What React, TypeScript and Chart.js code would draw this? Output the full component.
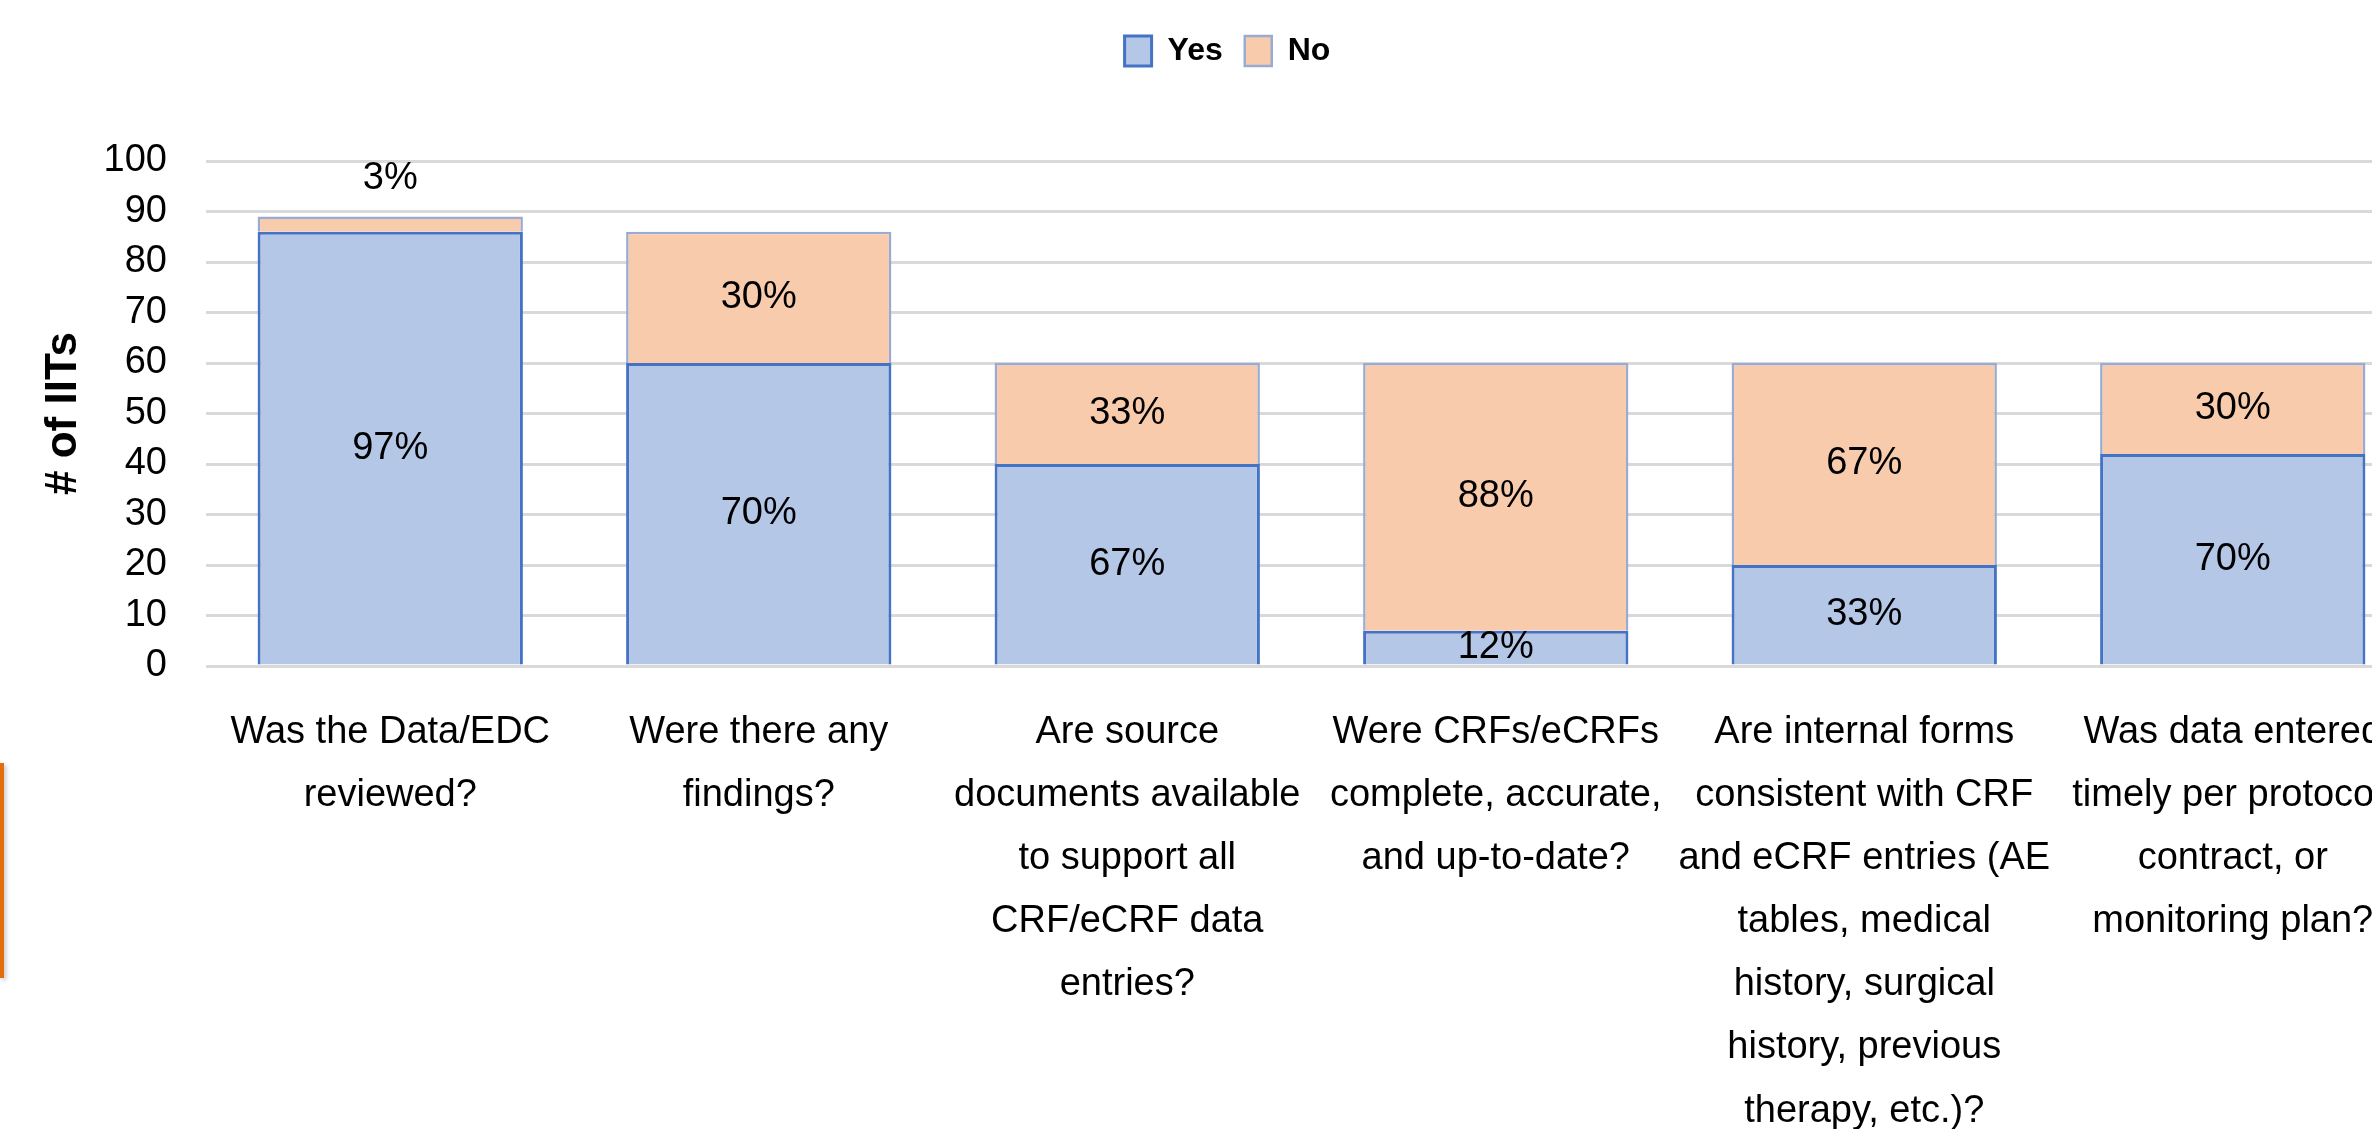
import React, { useEffect, useRef } from 'react';
import { Chart, registerables } from 'chart.js';

Chart.register(...registerables);

// ---- data ----
const categories: string[][] = [
  ['Was the Data/EDC', 'reviewed?'],
  ['Were there any', 'findings?'],
  ['Are source', 'documents available', 'to support all', 'CRF/eCRF data', 'entries?'],
  ['Were CRFs/eCRFs', 'complete, accurate,', 'and up-to-date?'],
  ['Are internal forms', 'consistent with CRF', 'and eCRF entries (AE', 'tables, medical', 'history, surgical', 'history, previous', 'therapy, etc.)?'],
  ['Was data entered', 'timely per protocol,', 'contract, or', 'monitoring plan?'],
];
const yesValues: number[] = [86, 60, 40, 7, 20, 42];
const noValues: number[] = [3, 26, 20, 53, 40, 18];
const seriesNames: string[] = ['Yes', 'No'];
const yAxisTitle = '# of IITs';

// ---- styling ----
const FONT = "'Liberation Sans', Arial, sans-serif";
const CANVAS_W = 2454;
const CANVAS_H = 1170;
const PAD_LEFT = 38;
const PLOT_LEFT = 206;
const PLOT_RIGHT = 2417;
const PLOT_BOTTOM = 666;

const segmentLabels = {
  id: 'segmentLabels',
  afterDatasetsDraw(chart: any) {
    const ctx = chart.ctx;
    ctx.save();
    ctx.font = `38px ${FONT}`;
    ctx.fillStyle = '#000';
    ctx.textAlign = 'center';
    ctx.textBaseline = 'middle';
    chart.data.datasets.forEach((ds: any, di: number) => {
      const meta = chart.getDatasetMeta(di);
      meta.data.forEach((el: any, j: number) => {
        const { x, y, base } = el.getProps(['x', 'y', 'base'], true);
        const total = yesValues[j] + noValues[j];
        const pct = Math.round((ds.data[j] / total) * 100) + '%';
        const h = Math.abs(base - y);
        const cy = h < 20 ? y - 38 : (y + base) / 2;
        ctx.fillText(pct, x, cy);
      });
    });
    ctx.restore();
  },
};

export default function App() {
  const ref = useRef<HTMLCanvasElement | null>(null);

  useEffect(() => {
    if (!ref.current) return;
    const chart = new Chart(ref.current, {
      type: 'bar',
      data: {
        labels: categories,
        datasets: [
          {
            label: seriesNames[0],
            data: yesValues,
            backgroundColor: '#B4C7E7',
            borderColor: '#4472C4',
            borderWidth: 3,
            categoryPercentage: 1,
            barPercentage: 0.72,
          },
          {
            label: seriesNames[1],
            data: noValues,
            backgroundColor: '#F8CBAD',
            borderColor: '#9AABD3',
            borderWidth: 2.5,
            categoryPercentage: 1,
            barPercentage: 0.72,
          },
        ],
      },
      options: {
        responsive: false,
        maintainAspectRatio: false,
        devicePixelRatio: 1,
        animation: false,
        layout: { padding: { top: 13, right: CANVAS_W - PLOT_RIGHT, bottom: 0, left: PAD_LEFT } },
        plugins: {
          legend: {
            display: true,
            position: 'top',
            labels: {
              boxWidth: 27,
              boxHeight: 30,
              padding: 22,
              color: '#000',
              font: { family: FONT, size: 32, weight: 'bold' },
            },
          },
          title: {
            display: true,
            text: '',
            position: 'top',
            weight: 500,
            font: { size: 10, lineHeight: 1 },
            padding: { top: 0, bottom: 74 },
          },
          tooltip: { enabled: false },
        },
        scales: {
          x: {
            stacked: true,
            grid: { display: false },
            border: { display: false },
            ticks: {
              color: '#000',
              font: { family: FONT, size: 38, lineHeight: 1.66 },
              padding: 27,
              maxRotation: 0,
              minRotation: 0,
              autoSkip: false,
            },
            afterFit: (scale: any) => {
              scale.height = CANVAS_H - PLOT_BOTTOM;
            },
          },
          y: {
            stacked: true,
            min: 0,
            max: 100,
            grid: { color: '#D9D9D9', lineWidth: 3, drawTicks: false },
            border: { display: false },
            ticks: {
              stepSize: 10,
              color: '#000',
              font: { family: FONT, size: 38 },
              padding: 39,
            },
            title: {
              display: true,
              text: yAxisTitle,
              color: '#000',
              font: { family: FONT, size: 44, weight: 'bold', lineHeight: 1 },
              padding: { top: 42 - PAD_LEFT, bottom: 0 },
            },
            afterFit: (scale: any) => {
              scale.width = PLOT_LEFT - PAD_LEFT;
            },
          },
        },
      },
      plugins: [segmentLabels],
    } as any);
    return () => chart.destroy();
  }, []);

  return (
    <div
      style={{
        position: 'fixed',
        left: 0,
        top: 0,
        width: 2372,
        height: 1129,
        overflow: 'hidden',
        background: '#fff',
      }}
    >
      <canvas
        ref={ref}
        width={CANVAS_W}
        height={CANVAS_H}
        style={{ display: 'block', width: CANVAS_W, height: CANVAS_H }}
      />
      <div
        style={{
          position: 'absolute',
          left: 0,
          top: 763,
          width: 4,
          height: 215,
          background: '#E46C0A',
          boxShadow: '2px 2px 4px rgba(0,0,0,0.25)',
        }}
      />
    </div>
  );
}
